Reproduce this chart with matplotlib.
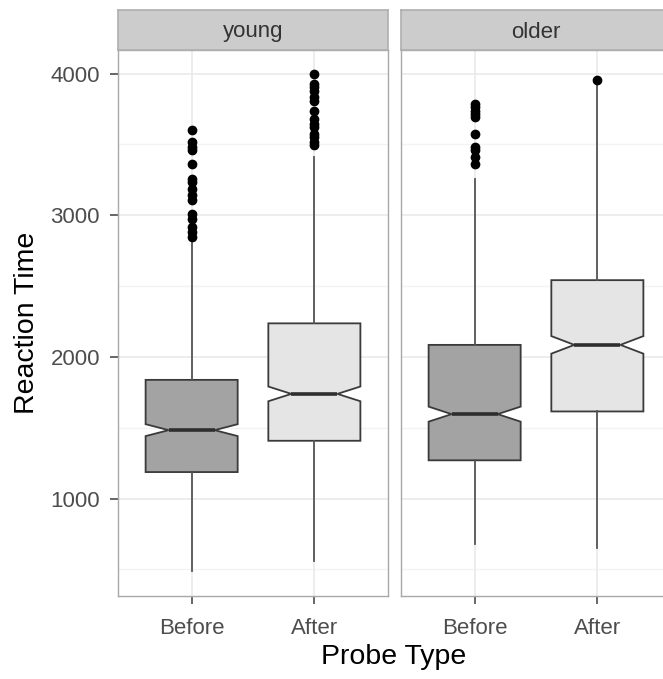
import matplotlib
matplotlib.use("Agg")
import matplotlib.pyplot as plt

plt.rcParams['font.family'] = ['Liberation Sans', 'DejaVu Sans']

# data
panels = ["young", "older"]
groups = ["Before", "After"]
fills = ["#A3A3A3", "#E5E5E5"]

young_before = dict(whislo=488, q1=1187, med=1483, q3=1838, whishi=2805, notch=42,
                    fliers=[3599, 3516, 3481, 3458, 3364, 3258, 3235, 3188, 3142,
                            3106, 3012, 2977, 2918, 2882, 2847])
young_after = dict(whislo=559, q1=1408, med=1739, q3=2237, whishi=3411, notch=52,
                   fliers=[3998, 3927, 3904, 3880, 3833, 3810, 3739, 3681, 3646,
                           3622, 3575, 3551, 3516, 3493])
older_before = dict(whislo=681, q1=1270, med=1596, q3=2085, whishi=3258, notch=53,
                    fliers=[3787, 3763, 3739, 3716, 3692, 3575, 3481, 3458, 3411, 3364])
older_after = dict(whislo=653, q1=1615, med=2085, q3=2542, whishi=3925, notch=62,
                   fliers=[3958])

stats = {"young": [young_before, young_after], "older": [older_before, older_after]}

yticks = [1000, 2000, 3000, 4000]
yminor = [500, 1500, 2500, 3500]
ylim = (312, 4167)

W, H = 663, 679
fig = plt.figure(figsize=(W / 100, H / 100), dpi=100)

def fx(px):
    return px / W

def fy(py):
    return 1 - py / H

panel_left = [118, 401]
panel_w = 270
top, bottom, strip_top = 50, 596, 10

for i, name in enumerate(panels):
    ax = fig.add_axes([fx(panel_left[i]), fy(bottom), fx(panel_w), (bottom - top) / H])
    ax.set_xlim(0.4, 2.6)
    ax.set_ylim(*ylim)
    for v in yminor:
        ax.axhline(v, color="#F3F3F3", lw=1, zorder=0)
    for v in yticks:
        ax.axhline(v, color="#E8E8E8", lw=1.1, zorder=0)
    for p in [1, 2]:
        ax.axvline(p, color="#E8E8E8", lw=1.1, zorder=0)

    bstats = []
    for g, s in zip(groups, stats[name]):
        bstats.append(dict(label=g, whislo=s["whislo"], q1=s["q1"], med=s["med"],
                           q3=s["q3"], whishi=s["whishi"], fliers=s["fliers"],
                           cilo=s["med"] - s["notch"], cihi=s["med"] + s["notch"]))
    res = ax.bxp(bstats, positions=[1, 2], widths=0.75, shownotches=True,
                 patch_artist=True, showcaps=False,
                 boxprops=dict(edgecolor="#3A3A3A", linewidth=1.3),
                 whiskerprops=dict(color="#555555", linewidth=1.3),
                 medianprops=dict(color="#2E2E2E", linewidth=2.6),
                 flierprops=dict(marker="o", markerfacecolor="black",
                                 markeredgecolor="black", markersize=6))
    for patch, c in zip(res["boxes"], fills):
        patch.set_facecolor(c)

    for sp in ax.spines.values():
        sp.set_color("#A8A8A8")
        sp.set_linewidth(1.0)
    ax.set_xticks([1, 2])
    ax.set_xticklabels(groups, fontsize=16, color="#4D4D4D")
    ax.tick_params(axis="x", length=6, width=1.2, color="#4D4D4D", pad=10)
    if i == 0:
        ax.set_yticks(yticks)
        ax.set_yticklabels([str(v) for v in yticks], fontsize=16, color="#4D4D4D")
        ax.tick_params(axis="y", length=6, width=1.2, color="#4D4D4D", pad=7)
    else:
        ax.set_yticks(yticks)
        ax.tick_params(axis="y", left=False, labelleft=False)

    # facet strip
    sax = fig.add_axes([fx(panel_left[i]), fy(top), fx(panel_w), (top - strip_top) / H])
    sax.set_facecolor("#CCCCCC")
    sax.set_xticks([])
    sax.set_yticks([])
    for sp in sax.spines.values():
        sp.set_color("#AFAFAF")
        sp.set_linewidth(1.2)
    sax.text(0.5, 0.45, name, ha="center", va="center", fontsize=16,
             color="#333333", transform=sax.transAxes)

fig.text(fx(27), fy((top + bottom) / 2), "Reaction Time", rotation=90,
         ha="center", va="center", fontsize=20.5)
fig.text(fx(394), fy(657), "Probe Type", ha="center", va="center", fontsize=20.5)

fig.savefig("out.png", dpi=100, facecolor="white")
